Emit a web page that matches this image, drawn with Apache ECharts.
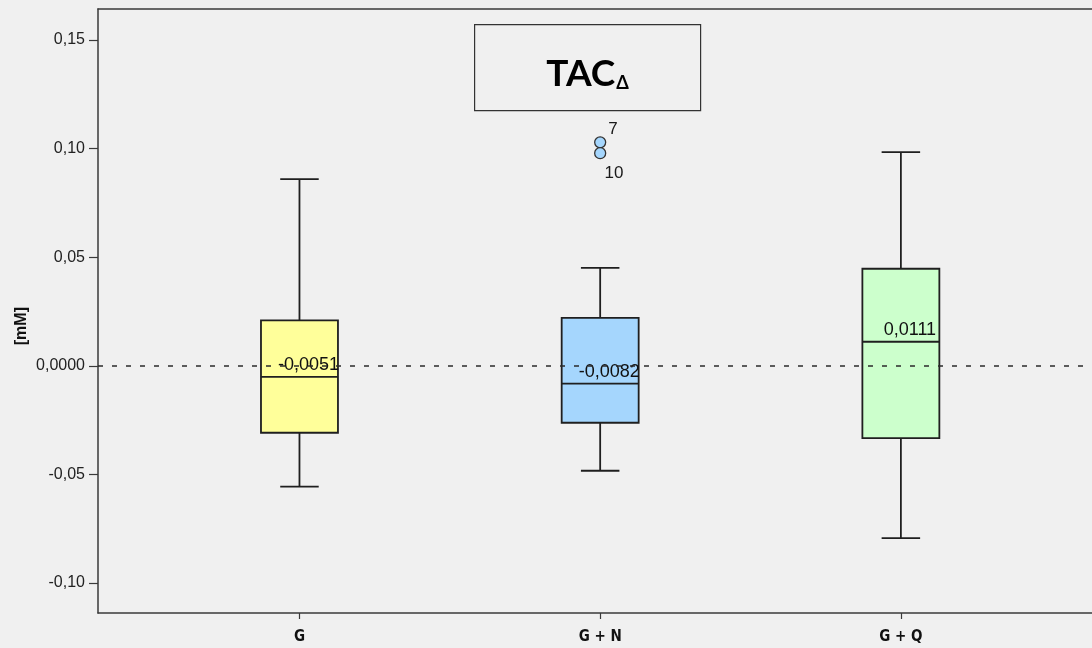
<!DOCTYPE html>
<html>
<head>
<meta charset="utf-8">
<title>TAC Δ</title>
<script src="https://cdn.jsdelivr.net/npm/echarts@6/dist/echarts.min.js"></script>
<style>
  html, body { margin: 0; padding: 0; background: #f0f0f0; }
  #chart { width: 1092px; height: 648px; }
</style>
</head>
<body>
<div id="chart"></div>
<script>
// Groups and their box-plot statistics (mM)
const categories = ['G', 'G + N', 'G + Q'];
const whiskerLow = [-0.0556, -0.0483, -0.0793];
const quartile1 = [-0.0308, -0.0262, -0.0333];
const medians = [-0.0051, -0.0082, 0.0111];
const quartile3 = [0.0209, 0.0221, 0.0447];
const whiskerHigh = [0.0860, 0.0451, 0.0984];

// Outlying cases: group index, value, case number
const outlierGroup = [1, 1];
const outlierValue = [0.1029, 0.0979];
const outlierCase = ['7', '10'];

// Value-axis ticks and their labels
const yTicks = [-0.10, -0.05, 0, 0.05, 0.10, 0.15];
const yTickLabels = ['-0,10', '-0,05', '0,0000', '0,05', '0,10', '0,15'];

const boxFill = ['#ffff9a', '#a5d6fd', '#ccffcc'];
const ink = '#1f1f1f';
const frame = '#3a3a3a';
const labelFont = '"Liberation Sans", Arial, sans-serif';

const boxData = categories.map((c, i) => [i + 1, whiskerLow[i], quartile1[i], medians[i], quartile3[i], whiskerHigh[i]]);
const outlierData = outlierValue.map((v, i) => ({
  value: [outlierGroup[i] + 1, v],
  label: {
    show: true,
    formatter: outlierCase[i],
    color: '#1a1a1a',
    position: i === 0 ? [19, -7] : [20, 26]
  }
}));

function fmtMedian(v) {
  return v.toFixed(4).replace('.', ',');
}

// x extent: groups sit one unit apart, the frame runs off the right edge
const xMin = 0.33;
const xMax = 3.6356;

const chart = echarts.init(document.getElementById('chart'), null, { renderer: 'canvas' });

chart.setOption({
  backgroundColor: '#f0f0f0',
  animation: false,
  grid: {
    left: 98, top: 9, width: 994, height: 604,
    show: true,
    backgroundColor: '#f0f0f0',
    borderWidth: 0
  },
  xAxis: [
    {
      type: 'value',
      position: 'bottom',
      min: xMin,
      max: xMax,
      axisLine: { show: true, onZero: false, lineStyle: { color: frame, width: 1.5 } },
      splitLine: { show: false },
      axisTick: { show: true, customValues: [1, 2, 3], length: 6, lineStyle: { color: frame, width: 1.2 } },
      axisLabel: {
        customValues: [1, 2, 3],
        formatter: v => categories[Math.round(v) - 1] || '',
        margin: 17,
        fontFamily: '"Liberation Sans Narrow", "DejaVu Sans Condensed", "Liberation Sans", sans-serif',
        fontWeight: 'bold',
        fontSize: 15,
        color: '#111'
      }
    },
    {
      type: 'value',
      position: 'top',
      min: xMin,
      max: xMax,
      axisLine: { show: true, onZero: false, lineStyle: { color: frame, width: 1.5 } },
      splitLine: { show: false },
      axisTick: { show: false },
      axisLabel: { show: false }
    }
  ],
  yAxis: {
    type: 'value',
    min: -0.1138,
    max: 0.1643,
    axisLine: { show: true, onZero: false, lineStyle: { color: frame, width: 1.5 } },
    splitLine: { show: false },
    axisTick: { show: true, customValues: yTicks, length: 9, lineStyle: { color: frame, width: 1.2 } },
    axisLabel: {
      customValues: yTicks,
      formatter: v => {
        const i = yTicks.findIndex(t => Math.abs(t - v) < 1e-9);
        return i >= 0 ? yTickLabels[i] : '';
      },
      margin: 13,
      fontFamily: labelFont,
      fontSize: 16,
      color: '#222'
    }
  },
  graphic: [
    {
      type: 'text',
      left: 14, top: 307,
      rotation: Math.PI / 2,
      style: { text: '[mM]', font: 'bold 16px "Liberation Sans", Arial, sans-serif', fill: '#111' }
    },
    {
      type: 'group',
      left: 474, top: 24,
      children: [
        {
          type: 'rect',
          shape: { x: 0, y: 0, width: 226, height: 86 },
          style: { fill: '#f0f0f0', stroke: '#333', lineWidth: 1.2 }
        },
        {
          type: 'text',
          x: 113, y: 49,
          style: {
            text: '{a|TAC}{b|Δ}',
            align: 'center',
            verticalAlign: 'middle',
            rich: {
              a: { font: 'bold 37px Lato, "Open Sans", sans-serif', fill: '#000' },
              b: { font: 'bold 18px Lato, "Open Sans", sans-serif', fill: '#000', verticalAlign: 'bottom', padding: [12, 0, 0, 1] }
            }
          }
        }
      ]
    }
  ],
  series: [
    {
      type: 'custom',
      name: 'TAC',
      z: 2,
      data: boxData,
      encode: { x: 0, y: [1, 2, 3, 4, 5] },
      renderItem(params, api) {
        const x = api.value(0);
        const pLow = api.coord([x, api.value(1)]);
        const pQ1 = api.coord([x, api.value(2)]);
        const pMed = api.coord([x, api.value(3)]);
        const pQ3 = api.coord([x, api.value(4)]);
        const pHigh = api.coord([x, api.value(5)]);
        const cx = pMed[0];
        const halfBox = api.size([0.256, 0])[0] / 2;
        const halfCap = halfBox / 2;
        const stroke = { stroke: ink, lineWidth: 1.8 };
        return {
          type: 'group',
          children: [
            { type: 'line', shape: { x1: cx, y1: pQ3[1], x2: cx, y2: pHigh[1] }, style: stroke },
            { type: 'line', shape: { x1: cx - halfCap, y1: pHigh[1], x2: cx + halfCap, y2: pHigh[1] }, style: stroke },
            { type: 'line', shape: { x1: cx, y1: pQ1[1], x2: cx, y2: pLow[1] }, style: stroke },
            { type: 'line', shape: { x1: cx - halfCap, y1: pLow[1], x2: cx + halfCap, y2: pLow[1] }, style: stroke },
            {
              type: 'rect',
              shape: { x: cx - halfBox, y: pQ3[1], width: halfBox * 2, height: pQ1[1] - pQ3[1] },
              style: { fill: boxFill[params.dataIndex], stroke: ink, lineWidth: 1.8 }
            },
            { type: 'line', shape: { x1: cx - halfBox, y1: pMed[1], x2: cx + halfBox, y2: pMed[1] }, style: stroke },
            {
              type: 'text',
              x: cx + 9, y: pMed[1] - 12,
              style: {
                text: fmtMedian(api.value(3)),
                align: 'center',
                verticalAlign: 'middle',
                font: '18px "Liberation Sans", Arial, sans-serif',
                fill: '#111'
              }
            }
          ]
        };
      }
    },
    {
      type: 'line',
      name: 'zero',
      z: 5,
      data: [],
      silent: true,
      markLine: {
        silent: true,
        symbol: ['none', 'none'],
        label: { show: false },
        lineStyle: { color: '#2a2a2a', width: 1.7, type: [5, 9] },
        data: [{ yAxis: 0 }]
      }
    },
    {
      type: 'scatter',
      name: 'outliers',
      z: 6,
      symbol: 'circle',
      symbolSize: 11,
      itemStyle: { color: '#a5d6fd', borderColor: '#333', borderWidth: 1.3, opacity: 1 },
      label: {
        align: 'center',
        verticalAlign: 'middle',
        fontFamily: labelFont,
        fontSize: 17,
        color: '#1a1a1a'
      },
      data: outlierData
    }
  ]
});
</script>
</body>
</html>
